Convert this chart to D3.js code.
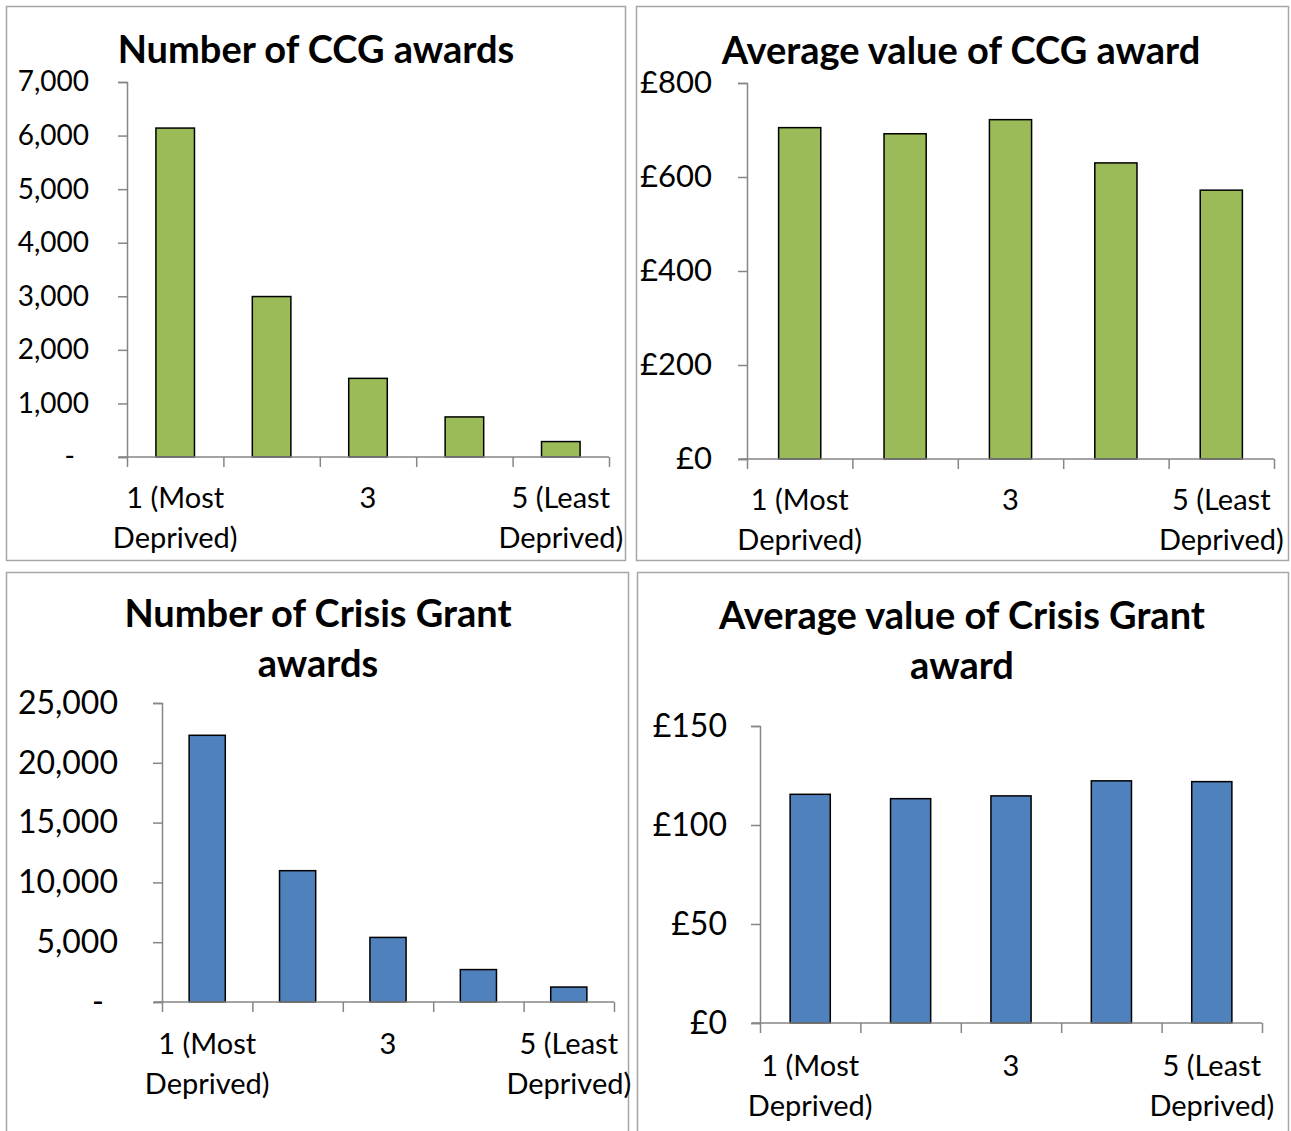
<!DOCTYPE html>
<html>
<head>
<meta charset="utf-8">
<script src="https://cdn.jsdelivr.net/npm/d3@7"></script>
<style>
body { margin: 0; background: #fff; }
svg { display: block; font-family: Lato, "Open Sans", sans-serif; }
.tick text { fill: #000; }
</style>
</head>
<body>
<div id="chart"></div>
<script>
// Deprivation quintiles (only 1, 3 and 5 carry a label on the axis)
var categories = ["1 (Most Deprived)", "2", "3", "4", "5 (Least Deprived)"];
var shownLabels = [["1 (Most", "Deprived)"], null, ["3"], null, ["5 (Least", "Deprived)"]];

var ccgCount = [6140, 2995, 1468, 748, 288];
var ccgAverage = [705, 692, 722, 630, 572];
var crisisCount = [22300, 10980, 5400, 2710, 1250];
var crisisAverage = [115.5, 113.3, 114.7, 122.3, 121.9];

var ccgTicks = [0, 1000, 2000, 3000, 4000, 5000, 6000, 7000];
var ccgAvgTicks = [0, 200, 400, 600, 800];
var crisisTicks = [0, 5000, 10000, 15000, 20000, 25000];
var crisisAvgTicks = [0, 50, 100, 150];

var GREEN = "#9bbb59", BLUE = "#4f81bd";

var svg = d3.select("#chart").append("svg")
	.attr("width", 1291)
	.attr("height", 1131);

function countFmt(v) { return v === 0 ? "-" : d3.format(",")(v); }
function poundFmt(v) { return "£" + d3.format(",")(v); }

function drawPanel(p) {
	// frame
	svg.append("rect")
		.attr("x", p.box[0] + 0.5).attr("y", p.box[1] + 0.5)
		.attr("width", p.box[2] - p.box[0]).attr("height", p.box[3] - p.box[1])
		.attr("fill", "none").attr("stroke", "#a6a6a6").attr("stroke-width", 1.5);

	var g = svg.append("g");

	// title
	var title = g.append("text")
		.attr("x", p.titleX).attr("y", p.titleY)
		.attr("text-anchor", "middle")
		.attr("font-size", 38).attr("font-weight", "bold");
	p.title.forEach(function(line, i) {
		title.append("tspan").attr("x", p.titleX).attr("dy", i === 0 ? 0 : 50).text(line);
	});

	// Excel-like spacing: bar is 40% of a category slot, centred in it
	var x = d3.scaleBand().domain(categories).range([p.x0, p.x1]).paddingInner(0.6).paddingOuter(0.3);
	var edges = d3.scaleLinear().domain([0, categories.length]).range([p.x0, p.x1]);
	var y = d3.scaleLinear().domain([0, p.ticks[p.ticks.length - 1]]).range([p.yb, p.yt]);

	// y axis
	var ya = g.append("g")
		.attr("transform", "translate(" + p.x0 + ",0)")
		.call(d3.axisLeft(y).tickValues(p.ticks).tickFormat(p.fmt).tickSizeOuter(0).tickSize(9).tickPadding(p.pad));
	ya.selectAll("text").attr("font-size", p.fs).attr("font-family", "Lato, 'Open Sans', sans-serif");
	// accounting-style dash for zero sits further left
	ya.selectAll("text").filter(function(d) { return d === 0 && p.fmt === countFmt; }).attr("dx", -14);

	// bars
	g.selectAll("rect.bar").data(p.values).enter().append("rect")
		.attr("class", "bar")
		.attr("x", function(d, i) { return x(categories[i]); })
		.attr("y", function(d) { return y(d); })
		.attr("width", x.bandwidth())
		.attr("height", function(d) { return y(0) - y(d); })
		.attr("fill", p.color)
		.attr("stroke", "#000").attr("stroke-width", 1.5);

	// x axis: tick marks on category boundaries
	var xa = g.append("g")
		.attr("transform", "translate(0," + p.yb + ")")
		.call(d3.axisBottom(edges).tickValues(d3.range(categories.length + 1)).tickFormat("").tickSize(10).tickSizeOuter(0));
	xa.select(".domain").attr("d", "M" + (p.x0 - 8) + ",0H" + p.x1);

	[ya, xa].forEach(function(a) {
		a.selectAll("line").attr("stroke", "#868686").attr("stroke-width", 1.5);
		a.selectAll(".domain").attr("stroke", "#868686").attr("stroke-width", 1.5);
	});

	// category labels
	categories.forEach(function(c, i) {
		var lines = shownLabels[i];
		if (!lines) { return; }
		var cx = x(c) + x.bandwidth() / 2;
		var t = g.append("text")
			.attr("x", cx).attr("y", p.yb + p.labelDy)
			.attr("text-anchor", "middle").attr("font-size", 29);
		lines.forEach(function(line, j) {
			t.append("tspan").attr("x", cx).attr("dy", j === 0 ? 0 : 40).text(line);
		});
	});
}

drawPanel({
	box: [6, 6, 625, 560], title: ["Number of CCG awards"], titleX: 316, titleY: 63,
	x0: 127, x1: 609, yt: 82, yb: 457, ticks: ccgTicks, fmt: countFmt, fs: 28, pad: 29,
	values: ccgCount, color: GREEN, labelDy: 51
});
drawPanel({
	box: [636, 6, 1288, 560], title: ["Average value of CCG award"], titleX: 961, titleY: 64,
	x0: 747, x1: 1274, yt: 83, yb: 459, ticks: ccgAvgTicks, fmt: poundFmt, fs: 31, pad: 26,
	values: ccgAverage, color: GREEN, labelDy: 51
});
drawPanel({
	box: [6, 572, 628, 1140], title: ["Number of Crisis Grant", "awards"], titleX: 318, titleY: 627,
	x0: 162, x1: 614, yt: 703, yb: 1002, ticks: crisisTicks, fmt: countFmt, fs: 32, pad: 35,
	values: crisisCount, color: BLUE, labelDy: 52
});
drawPanel({
	box: [637, 572, 1288, 1140], title: ["Average value of Crisis Grant", "award"], titleX: 962, titleY: 629,
	x0: 760, x1: 1262, yt: 726, yb: 1023, ticks: crisisAvgTicks, fmt: poundFmt, fs: 32, pad: 24,
	values: crisisAverage, color: BLUE, labelDy: 53
});
</script>
</body>
</html>
